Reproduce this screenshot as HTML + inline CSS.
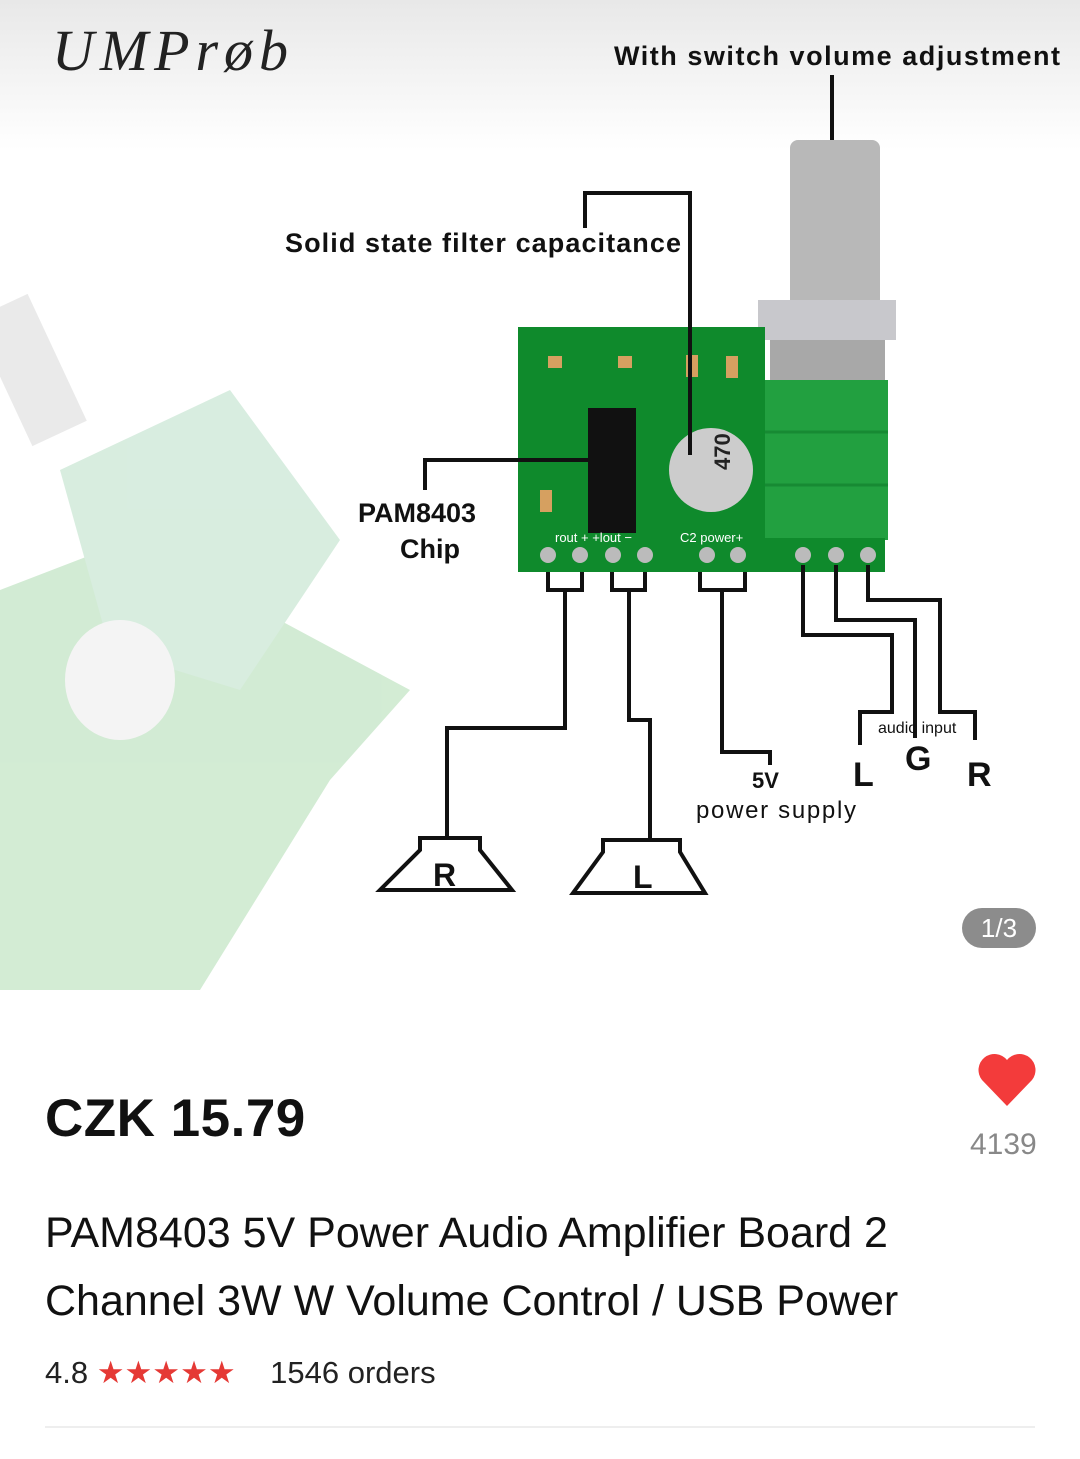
<!DOCTYPE html>
<html><head><meta charset="utf-8"><style>
body{margin:0;width:1080px;height:1459px;overflow:hidden;background:#fff;font-family:"Liberation Sans",sans-serif;position:relative}
.abs{position:absolute}
</style></head><body>
<div class="abs" style="left:0;top:0;width:1080px;height:150px;background:linear-gradient(#e8e8e8,#fff)"></div>
<svg class="abs" style="left:0;top:0" width="1080" height="1000">
<g opacity="0.3">
<polygon points="0,590 130,540 410,690 330,780 200,990 0,990" fill="#6cbf72"/>
<polygon points="60,470 230,390 340,540 240,690 110,650" fill="#7fc497"/>
<rect x="0" y="300" width="60" height="140" fill="#bbb" transform="rotate(-25 30 370)"/>
<ellipse cx="120" cy="680" rx="55" ry="60" fill="#ddd"/>
</g>
<rect x="790" y="140" width="90" height="170" fill="#b8b8b8" rx="8"/>
<rect x="758" y="300" width="138" height="40" fill="#c8c8cc"/>
<rect x="770" y="340" width="115" height="40" fill="#a8a8a8"/>
<rect x="765" y="380" width="123" height="160" fill="#22a040"/>
<line x1="765" y1="432" x2="888" y2="432" stroke="#178a33" stroke-width="3"/>
<line x1="765" y1="485" x2="888" y2="485" stroke="#178a33" stroke-width="3"/>
<rect x="518" y="327" width="247" height="245" fill="#0f8a2c"/>
<rect x="765" y="538" width="120" height="34" fill="#0f8a2c"/>
<rect x="588" y="408" width="48" height="125" fill="#111"/>
<circle cx="711" cy="470" r="42" fill="#ccc"/>
<text x="700" y="500" font-size="22" font-weight="bold" transform="rotate(-90 700 470)" fill="#222">470</text>
<g fill="#d6a060"><rect x="548" y="356" width="14" height="12"/><rect x="618" y="356" width="14" height="12"/><rect x="686" y="355" width="12" height="22"/><rect x="726" y="356" width="12" height="22"/><rect x="540" y="490" width="12" height="22"/></g>
<g fill="#bbb"><circle cx="548" cy="555" r="8"/><circle cx="580" cy="555" r="8"/><circle cx="613" cy="555" r="8"/><circle cx="645" cy="555" r="8"/><circle cx="707" cy="555" r="8"/><circle cx="738" cy="555" r="8"/><circle cx="803" cy="555" r="8"/><circle cx="836" cy="555" r="8"/><circle cx="868" cy="555" r="8"/></g>
<text x="555" y="542" font-size="13" fill="#fff">rout + +lout −</text>
<text x="680" y="542" font-size="13" fill="#fff">C2 power+</text>
<g stroke="#111" stroke-width="4" fill="none">
<polyline points="832,75 832,140"/>
<polyline points="585,228 585,193 690,193 690,455"/>
<polyline points="425,490 425,460 605,460"/>
<polyline points="548,572 548,590 582,590 582,572"/><polyline points="565,590 565,728 447,728 447,840"/>
<polyline points="612,572 612,590 645,590 645,572"/><polyline points="629,590 629,720 650,720 650,840"/>
<polyline points="700,572 700,590 745,590 745,572"/><polyline points="722,590 722,752 770,752 770,765"/>
<polyline points="803,565 803,635 892,635 892,712 860,712 860,745"/>
<polyline points="836,565 836,620 915,620 915,738"/>
<polyline points="868,565 868,600 940,600 940,712 975,712 975,740"/>
<polygon points="420,838 480,838 480,850 512,890 380,890 420,850 420,838"/>
<polygon points="603,840 680,840 680,852 705,893 573,893 603,852 603,840"/>
</g>
<g font-weight="bold" fill="#111">
<text x="614" y="65" font-size="27" textLength="446">With switch volume adjustment</text>
<text x="285" y="252" font-size="27" textLength="396">Solid state filter capacitance</text>
<text x="358" y="522" font-size="27">PAM8403</text>
<text x="400" y="558" font-size="27">Chip</text>
<text x="752" y="788" font-size="22">5V</text>
<text x="696" y="818" font-size="24" font-weight="normal" textLength="160">power supply</text>
<text x="878" y="733" font-size="16" font-weight="normal">audio input</text>
<text x="853" y="786" font-size="34">L</text>
<text x="905" y="770" font-size="34">G</text>
<text x="967" y="786" font-size="34">R</text>
<text x="433" y="886" font-size="32">R</text>
<text x="633" y="888" font-size="32">L</text>
</g>
<text x="52" y="70" font-size="58" font-family="Liberation Serif" fill="#222" font-style="italic" textLength="236">UMPrøb</text>
<rect x="962" y="908" width="74" height="40" rx="20" fill="#8c8c8c"/>
<text x="999" y="937" font-size="26" fill="#fff" text-anchor="middle">1/3</text>
</svg>
<div class="abs" style="left:45px;top:1088px;font-size:53px;font-weight:bold;color:#111;letter-spacing:0.5px">CZK 15.79</div>
<svg class="abs" style="left:976px;top:1052px" width="62" height="56"><path d="M31 54 L6 28 A14 14 0 0 1 31 8 A14 14 0 0 1 56 28 Z" fill="#f33b3b"/></svg>
<div class="abs" style="left:970px;top:1128px;font-size:30px;color:#888">4139</div>
<div class="abs" style="left:45px;top:1199px;font-size:43px;line-height:68px;color:#111;width:1030px">PAM8403 5V Power Audio Amplifier Board 2<br>Channel 3W W Volume Control / USB Power</div>
<div class="abs" style="left:45px;top:1355px;font-size:31px;color:#222">4.8 <span style="color:#e53935">★★★★★</span>&nbsp;&nbsp;&nbsp; 1546 orders</div>
<div class="abs" style="left:45px;top:1426px;width:990px;height:2px;background:#eee"></div>
</body></html>
